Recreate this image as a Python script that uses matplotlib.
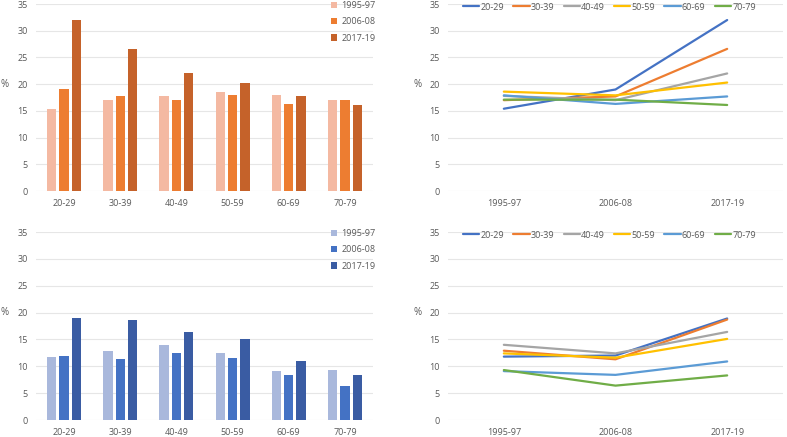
import matplotlib
matplotlib.use("Agg")
import matplotlib.pyplot as plt
import numpy as np

age_groups = ["20-29", "30-39", "40-49", "50-59", "60-69", "70-79"]
periods = ["1995-97", "2006-08", "2017-19"]

# top row values (% by age group, per period)
top_1995 = [15.4, 17.0, 17.8, 18.6, 17.9, 17.1]
top_2006 = [19.0, 17.7, 17.0, 17.9, 16.3, 17.1]
top_2017 = [32.0, 26.6, 22.0, 20.3, 17.7, 16.1]

# bottom row values
bot_1995 = [11.8, 12.9, 14.0, 12.4, 9.1, 9.3]
bot_2006 = [12.0, 11.3, 12.4, 11.6, 8.4, 6.4]
bot_2017 = [18.9, 18.7, 16.4, 15.1, 10.9, 8.3]

y_ticks = [0, 5, 10, 15, 20, 25, 30, 35]

orange_cols = ["#F4B9A2", "#ED7D31", "#C5622A"]
blue_cols = ["#A9B8DC", "#4472C4", "#3A5CA3"]
line_cols = ["#4472C4", "#ED7D31", "#A5A5A5", "#FFC000", "#5B9BD5", "#70AD47"]

TXT = "#595959"
GRID = "#E6E6E6"
FS = 6.5
plt.rcParams['font.family'] = ['Open Sans', 'DejaVu Sans']

fig = plt.figure(figsize=(7.87, 4.37), dpi=100)

W = 787.0
H = 437.0

def make_ax(x0, x1, ytop, ybot):
    return fig.add_axes([x0 / W, 1 - ybot / H, (x1 - x0) / W, (ybot - ytop) / H])

ax_tl = make_ax(36, 373, 4, 191)
ax_tr = make_ax(448, 783, 4, 191)
ax_bl = make_ax(36, 373, 232, 420)
ax_br = make_ax(448, 783, 232, 420)

def style(ax):
    ax.set_ylim(0, 35)
    ax.set_yticks(y_ticks)
    ax.set_yticklabels([str(t) for t in y_ticks])
    for s in ax.spines.values():
        s.set_visible(False)
    ax.tick_params(axis='both', length=0, labelsize=FS, labelcolor=TXT)
    ax.tick_params(axis='y', pad=6)
    ax.tick_params(axis='x', pad=6)
    ax.yaxis.grid(True, color=GRID, linewidth=0.8)
    ax.set_axisbelow(True)
    ax.text(-0.092, 0.572, "%", transform=ax.transAxes, ha='center', va='center',
            fontsize=FS + 0.5, color=TXT)

def bar_panel(ax, series, cols):
    x = np.arange(len(age_groups))
    offs = [-0.22, 0.0, 0.22]
    for vals, c, o, lab in zip(series, cols, offs, periods):
        ax.bar(x + o, vals, width=0.165, color=c, label=lab, zorder=2)
    ax.set_xlim(-0.5, len(age_groups) - 0.5)
    ax.set_xticks(x)
    ax.set_xticklabels(age_groups)
    style(ax)
    leg = ax.legend(loc='upper left', bbox_to_anchor=(0.875, 1.015), frameon=False,
                    fontsize=FS, handlelength=0.72, handleheight=0.72, handletextpad=0.45,
                    labelspacing=0.8, borderpad=0, borderaxespad=0)
    for t in leg.get_texts():
        t.set_color(TXT)

def line_panel(ax, series):
    x = np.arange(len(periods))
    # transpose: one line per age group
    data = np.array(series).T
    for i, lab in enumerate(age_groups):
        ax.plot(x, data[i], color=line_cols[i], linewidth=1.6, label=lab,
                solid_capstyle='round', zorder=2)
    ax.set_xlim(-0.5, len(periods) - 0.5)
    ax.set_xticks(x)
    ax.set_xticklabels(periods)
    style(ax)
    leg = ax.legend(loc='center', bbox_to_anchor=(0.482, 1 - 3.0 / 187), ncol=6,
                    frameon=False, fontsize=FS, handlelength=1.8, handletextpad=0.15,
                    columnspacing=1.0, borderpad=0, borderaxespad=0)
    for t in leg.get_texts():
        t.set_color(TXT)

bar_panel(ax_tl, [top_1995, top_2006, top_2017], orange_cols)
bar_panel(ax_bl, [bot_1995, bot_2006, bot_2017], blue_cols)
line_panel(ax_tr, [top_1995, top_2006, top_2017])
line_panel(ax_br, [bot_1995, bot_2006, bot_2017])

fig.savefig("out.png", dpi=100, facecolor="white")
